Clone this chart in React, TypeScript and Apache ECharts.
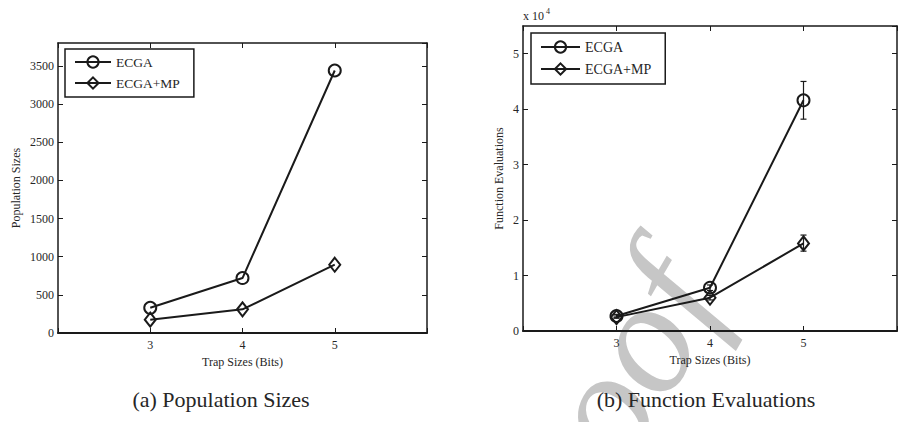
import React, { useEffect, useRef } from "react";
import * as echarts from "echarts";

// Trap sizes (bits) on the x axis
const trapSizes = [3, 4, 5];

// (a) population sizes
const popECGA = [330, 720, 3440];
const popECGAMP = [175, 310, 895];

// (b) function evaluations, with error bar extents
const evalECGA = [2700, 7800, 41600];
const evalECGALow = [2400, 7300, 38200];
const evalECGAHigh = [3000, 8300, 45000];
const evalECGAMP = [2500, 6000, 15800];
const evalECGAMPLow = [2300, 5600, 14400];
const evalECGAMPHigh = [2700, 6400, 17300];

const popTicks = [0, 500, 1000, 1500, 2000, 2500, 3000, 3500];
const evalTicks = [0, 10000, 20000, 30000, 40000, 50000];

const INK = "#1a1a1a";
const TEXT = "#262626";
const SERIF = "Liberation Serif";

function pairs(xs: number[], ys: number[]) {
  return xs.map((x, i) => [x, ys[i]]);
}

function bars(xs: number[], lo: number[], hi: number[]) {
  return xs.map((x, i) => [x, lo[i], hi[i]]);
}

function bottomAxis(gridIndex: number) {
  return {
    type: "value",
    gridIndex,
    position: "bottom",
    min: 2,
    max: 6,
    interval: 1,
    name: "Trap Sizes (Bits)",
    nameLocation: "middle",
    nameGap: 22,
    nameTextStyle: { fontFamily: SERIF, fontSize: 12, color: TEXT },
    axisLine: { show: true, onZero: false, lineStyle: { color: INK, width: 2 } },
    axisTick: { show: true, inside: true, length: 5, lineStyle: { color: INK, width: 1 } },
    axisLabel: {
      margin: 6,
      fontFamily: SERIF,
      fontSize: 12,
      color: TEXT,
      formatter: (v: number) => (trapSizes.includes(v) ? String(v) : ""),
    },
    splitLine: { show: false },
  };
}

function topAxis(gridIndex: number) {
  return {
    type: "value",
    gridIndex,
    position: "top",
    min: 2,
    max: 6,
    interval: 1,
    axisLine: { show: true, onZero: false, lineStyle: { color: INK, width: 1.5 } },
    axisTick: { show: true, inside: true, length: 5, lineStyle: { color: INK, width: 1 } },
    axisLabel: { show: false },
    splitLine: { show: false },
  };
}

function leftAxis(gridIndex: number, max: number, interval: number, name: string, nameGap: number, fmt: (v: number) => string, ticks: number[]) {
  return {
    type: "value",
    gridIndex,
    position: "left",
    min: 0,
    max,
    interval,
    name,
    nameLocation: "middle",
    nameGap,
    nameTextStyle: { fontFamily: SERIF, fontSize: 12, color: TEXT },
    axisLine: { show: true, onZero: false, lineStyle: { color: INK, width: 1.5 } },
    axisTick: { show: true, inside: true, length: 5, lineStyle: { color: INK, width: 1 } },
    axisLabel: {
      margin: 4,
      fontFamily: SERIF,
      fontSize: 12,
      color: TEXT,
      showMaxLabel: false,
      formatter: (v: number) => (ticks.includes(v) ? fmt(v) : ""),
    },
    splitLine: { show: false },
  };
}

function rightAxis(gridIndex: number, max: number, interval: number) {
  return {
    type: "value",
    gridIndex,
    position: "right",
    min: 0,
    max,
    interval,
    axisLine: { show: true, onZero: false, lineStyle: { color: INK, width: 1.5 } },
    axisTick: { show: true, inside: true, length: 5, lineStyle: { color: INK, width: 1 } },
    axisLabel: { show: false },
    splitLine: { show: false },
  };
}

const circleStyle = {
  symbol: "circle",
  symbolSize: 12,
  itemStyle: { color: "rgba(255,255,255,0)", borderColor: INK, borderWidth: 2 },
  lineStyle: { color: INK, width: 2 },
};

const diamondStyle = {
  symbol: "diamond",
  symbolSize: [11, 14],
  itemStyle: { color: "rgba(255,255,255,0)", borderColor: INK, borderWidth: 2 },
  lineStyle: { color: INK, width: 2 },
};

function errorBarSeries(name: string, data: number[][], xAxisIndex: number, yAxisIndex: number) {
  return {
    type: "custom",
    name,
    xAxisIndex,
    yAxisIndex,
    data,
    z: 1,
    encode: { x: 0, y: [1, 2] },
    renderItem: (_params: any, api: any) => {
      const x = api.value(0);
      const top = api.coord([x, api.value(2)]);
      const bot = api.coord([x, api.value(1)]);
      const cap = 3;
      const style = { stroke: INK, lineWidth: 1.2 };
      return {
        type: "group",
        children: [
          { type: "line", shape: { x1: top[0], y1: top[1], x2: bot[0], y2: bot[1] }, style },
          { type: "line", shape: { x1: top[0] - cap, y1: top[1], x2: top[0] + cap, y2: top[1] }, style },
          { type: "line", shape: { x1: bot[0] - cap, y1: bot[1], x2: bot[0] + cap, y2: bot[1] }, style },
        ],
      };
    },
  };
}

function legendBox(left: number, top: number, fontSize: number, itemWidth: number, itemGap: number, padding: number[]) {
  return {
    orient: "vertical",
    left,
    top,
    data: ["ECGA", "ECGA+MP"],
    itemWidth,
    itemHeight: 14,
    itemGap,
    padding,
    borderColor: INK,
    borderWidth: 1.5,
    backgroundColor: "#ffffff",
    selectedMode: false,
    textStyle: { fontFamily: SERIF, fontSize, color: TEXT },
  };
}

export default function App() {
  const ref = useRef<HTMLDivElement>(null);

  useEffect(() => {
    if (!ref.current) return;
    const chart = echarts.init(ref.current, undefined, { renderer: "svg" });

    const option: any = {
      animation: false,
      backgroundColor: "#ffffff",
      grid: [
        { left: 58, top: 43, width: 369, height: 290 },
        { left: 523, top: 26, width: 387, height: 305 },
      ],
      xAxis: [bottomAxis(0), topAxis(0), bottomAxis(1), topAxis(1)],
      yAxis: [
        leftAxis(0, 3800, 500, "Population Sizes", 36, (v) => String(v), popTicks),
        rightAxis(0, 3800, 500),
        leftAxis(1, 55000, 10000, "Function Evaluations", 18, (v) => String(v / 10000), evalTicks),
        rightAxis(1, 55000, 10000),
      ],
      legend: [
        legendBox(65, 49, 13.5, 36, 7, [6, 14, 7, 9]),
        legendBox(531, 33, 14, 39, 8, [7, 14, 8, 9]),
      ],
      series: [
        { type: "line", name: "ECGA", xAxisIndex: 0, yAxisIndex: 0, data: pairs(trapSizes, popECGA), ...circleStyle },
        { type: "line", name: "ECGA+MP", xAxisIndex: 0, yAxisIndex: 0, data: pairs(trapSizes, popECGAMP), ...diamondStyle },
        errorBarSeries("ECGA err", bars(trapSizes, evalECGALow, evalECGAHigh), 2, 2),
        errorBarSeries("ECGA+MP err", bars(trapSizes, evalECGAMPLow, evalECGAMPHigh), 2, 2),
        { type: "line", name: "ECGA", xAxisIndex: 2, yAxisIndex: 2, data: pairs(trapSizes, evalECGA), ...circleStyle },
        { type: "line", name: "ECGA+MP", xAxisIndex: 2, yAxisIndex: 2, data: pairs(trapSizes, evalECGAMP), ...diamondStyle },
      ],
      graphic: [
        {
          // faint "Proof" stamp running diagonally behind panel (b)
          type: "text",
          z: -1,
          x: 681,
          y: 270,
          rotation: (60 * Math.PI) / 180,
          style: {
            text: "Proof",
            fontFamily: SERIF,
            fontStyle: "italic",
            fontSize: 160,
            fill: "#c6c6c6",
            align: "right",
            verticalAlign: "middle",
          },
        },
        {
          type: "text",
          x: 523,
          y: 16,
          style: { text: "x 10", fontFamily: SERIF, fontSize: 12, fill: TEXT, align: "left", verticalAlign: "middle" },
        },
        {
          type: "text",
          x: 546,
          y: 11,
          style: { text: "4", fontFamily: SERIF, fontSize: 8, fill: TEXT, align: "left", verticalAlign: "middle" },
        },
        {
          type: "text",
          x: 221,
          y: 399,
          style: { text: "(a) Population Sizes", fontFamily: SERIF, fontSize: 22, fill: TEXT, align: "center", verticalAlign: "middle" },
        },
        {
          type: "text",
          x: 706,
          y: 399,
          style: { text: "(b) Function Evaluations", fontFamily: SERIF, fontSize: 22, fill: TEXT, align: "center", verticalAlign: "middle" },
        },
      ],
    };

    chart.setOption(option);
    return () => chart.dispose();
  }, []);

  return <div ref={ref} style={{ position: "absolute", left: 0, top: 0, width: 900, height: 422 }} />;
}
